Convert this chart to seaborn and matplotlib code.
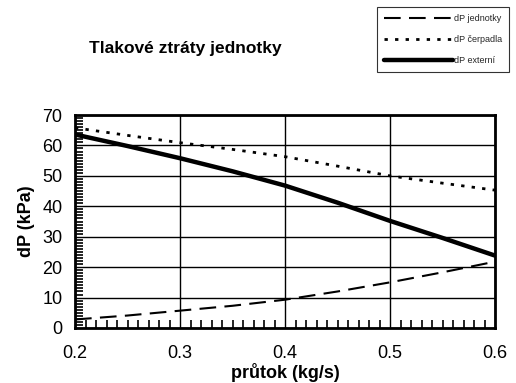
import matplotlib
matplotlib.use("Agg")
import matplotlib.pyplot as plt
import seaborn as sns
import pandas as pd
from matplotlib.ticker import MultipleLocator

flow = [0.2, 0.25, 0.3, 0.35, 0.4, 0.45, 0.5, 0.55, 0.6]
dp_jednotky = [2.8, 4.1, 5.7, 7.3, 9.3, 12.0, 15.0, 18.3, 21.8]
dp_cerpadla = [65.8, 63.3, 60.9, 58.7, 56.3, 53.2, 50.0, 47.6, 45.3]
dp_externi = [63.6, 59.8, 55.8, 51.5, 46.8, 41.2, 35.2, 29.6, 23.8]
series_names = ["dP jednotky", "dP čerpadla", "dP externí"]
x_ticks = [0.2, 0.3, 0.4, 0.5, 0.6]
x_tick_labels = ["0.2", "0.3", "0.4", "0.5", "0.6"]
x_minor = [i / 100 for i in range(20, 61)]
y_minor = list(range(0, 71))

sns.set_theme(style="white")
plt.rcParams['font.family'] = ['Liberation Sans', 'DejaVu Sans']

fig = plt.figure(figsize=(5.16, 3.83), dpi=100)
ax = fig.add_axes([75/516, 55/383, 420/516, 213/383])

df = pd.DataFrame({"flow": flow, series_names[0]: dp_jednotky,
                   series_names[1]: dp_cerpadla, series_names[2]: dp_externi})

sns.lineplot(data=df, x="flow", y=series_names[0], ax=ax, color="black",
             linewidth=1.5, label=series_names[0])
ax.lines[-1].set_dashes([8, 4])
sns.lineplot(data=df, x="flow", y=series_names[1], ax=ax, color="black",
             linewidth=2.0, label=series_names[1])
ax.lines[-1].set_dashes([1.2, 2.6])
sns.lineplot(data=df, x="flow", y=series_names[2], ax=ax, color="black",
             linewidth=3.2, label=series_names[2])

ax.set_xlim(0.2, 0.6)
ax.set_ylim(0, 70)
ax.set_xticks(x_ticks)
ax.set_xticklabels(x_tick_labels)
ax.set_xticks(x_minor, minor=True)
ax.yaxis.set_major_locator(MultipleLocator(10))
ax.set_yticks(y_minor, minor=True)
ax.grid(True, which="major", color="black", linewidth=1.0)
ax.tick_params(axis="x", which="major", length=0, labelsize=13, labelcolor="black", pad=12)
ax.tick_params(axis="y", which="major", length=0, labelsize=13, labelcolor="black", pad=9)
ax.tick_params(axis="x", which="minor", direction="in", length=6, width=1.2,
               color="black", bottom=True, top=False)
ax.tick_params(axis="y", which="minor", direction="in", length=6, width=1.2,
               color="black", left=True, right=False)
for s in ax.spines.values():
    s.set_color("black")
    s.set_linewidth(2.0)

ax.set_xlabel("průtok (kg/s)", fontsize=13, fontweight="bold", labelpad=1, color="black")
ax.set_ylabel("dP (kPa)", fontsize=13, fontweight="bold", labelpad=5, color="black")

fig.text(185/516, 1 - 48/383, "Tlakové ztráty jednotky", fontsize=12.5,
         fontweight="bold", ha="center", va="center", color="black")

handles, labels = ax.get_legend_handles_labels()
ax.get_legend().remove()
leg = fig.legend(handles, labels, loc="upper left", bbox_to_anchor=(377/516, 1 - 7/383),
                 fontsize=6.5, frameon=True, fancybox=False, edgecolor="black",
                 handlelength=7.6, handletextpad=0.1, labelspacing=1.3,
                 borderpad=0.8, borderaxespad=0)
leg.get_frame().set_linewidth(0.8)

fig.savefig("out.png", dpi=100)
